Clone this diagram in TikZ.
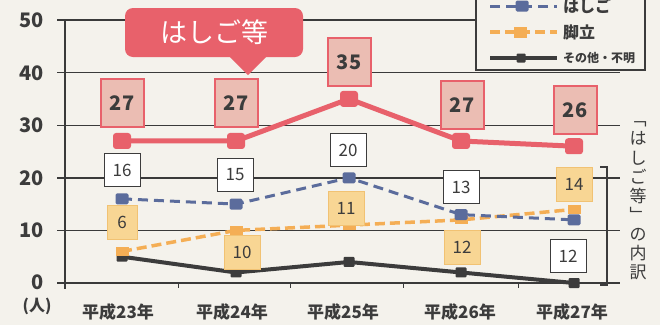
\documentclass[tikz,border=0pt]{standalone}
\usepackage{fontspec}
\setmainfont{Noto Sans CJK JP}
\definecolor{paper}{HTML}{F4F2EC}
\definecolor{redc}{HTML}{E8616B}
\definecolor{redfill}{HTML}{EBBDB3}
\definecolor{bluec}{HTML}{5B6C9C}
\definecolor{orangec}{HTML}{F4AE55}
\definecolor{orangefill}{HTML}{F8D694}
\definecolor{orangeedge}{HTML}{F1C273}
\definecolor{blackc}{HTML}{3C3C3C}
\definecolor{gridc}{HTML}{3A3A3A}
\begin{document}
\begin{tikzpicture}[x=1pt,y=-1pt,
  gridline/.style={draw=gridc,line width=1.4pt},
  ylab/.style={anchor=east,font=\fontsize{20}{20}\selectfont\bfseries,text=blackc,inner sep=0pt},
  xlab/.style={font=\fontsize{17}{17}\selectfont\bfseries,text=blackc,inner sep=0pt},
  redline/.style={draw=redc,line width=5pt,line join=round},
  blueline/.style={draw=bluec,line width=3pt,dash pattern=on 10pt off 6pt},
  orangeline/.style={draw=orangec,line width=3.5pt,dash pattern=on 10pt off 5pt},
  blackline/.style={draw=blackc,line width=4pt,line join=round},
  redmark/.style={fill=redc,minimum width=18pt,minimum height=16pt,inner sep=0pt,rounded corners=3pt},
  bluemark/.style={fill=bluec,minimum width=13pt,minimum height=11pt,inner sep=0pt,rounded corners=1.5pt},
  orangemark/.style={fill=orangec,minimum width=13pt,minimum height=9pt,inner sep=0pt},
  blackmark/.style={fill=blackc,minimum width=11pt,minimum height=10pt,inner sep=0pt,rounded corners=1pt},
  redbox/.style={fill=redfill,draw=redc,line width=2pt,minimum width=43pt,minimum height=48pt,inner sep=0pt,
    font=\fontsize{20}{20}\selectfont\bfseries,text=blackc},
  bluebox/.style={fill=white,draw=blackc,line width=1pt,minimum width=36pt,minimum height=33pt,inner sep=0pt,
    font=\fontsize{17}{17}\selectfont,text=blackc},
  orangebox/.style={fill=orangefill,draw=orangeedge,line width=1pt,minimum width=36pt,minimum height=34pt,inner sep=0pt,
    font=\fontsize{17}{17}\selectfont,text=blackc},
  legtext/.style={anchor=west,font=\fontsize{16}{16}\selectfont\bfseries,text=blackc,inner sep=0pt},
]
\useasboundingbox (0,0) rectangle (660,325);
\fill[paper] (0,0) rectangle (660,325);

% grid
\foreach \v in {0,10,20,30,40,50}
  \draw[gridline] (57,{283-5.26*\v}) -- (620,{283-5.26*\v});
\draw[gridline] (65,19) -- (65,289);
\foreach \x in {178,290,403,518}
  \draw[gridline,line width=1pt] (\x,283) -- (\x,288);

% y labels
\node[ylab] (y50) at (44,20) {50};
\node[ylab] (y40) at (44,73) {40};
\node[ylab] (y30) at (44,125) {30};
\node[ylab] (y20) at (44,178) {20};
\node[ylab] (y10) at (44,230) {10};
\node[ylab] (y0)  at (44,282) {0};
\node[font=\fontsize{16}{16}\selectfont\bfseries,text=blackc,inner sep=0pt] (unit) at (37,306) {(人)};

% x labels
\node[xlab] (x1) at (118,312) {平成23年};
\node[xlab] (x2) at (232,312) {平成24年};
\node[xlab] (x3) at (343,312) {平成25年};
\node[xlab] (x4) at (460,312) {平成26年};
\node[xlab] (x5) at (572,312) {平成27年};

% data coordinates
\coordinate (r1) at (122,{283-5.26*27});
\coordinate (r2) at (236,{283-5.26*27});
\coordinate (r3) at (349,{283-5.26*35});
\coordinate (r4) at (461,{283-5.26*27});
\coordinate (r5) at (574,{283-5.26*26});
\coordinate (b1) at (122,{283-5.26*16});
\coordinate (b2) at (236,{283-5.26*15});
\coordinate (b3) at (349,{283-5.26*20});
\coordinate (b4) at (461,{283-5.26*13});
\coordinate (b5) at (574,{283-5.26*12});
\coordinate (o1) at (122,{283-5.26*6});
\coordinate (o2) at (236,{283-5.26*10});
\coordinate (o3) at (349,{283-5.26*11});
\coordinate (o4) at (461,{283-5.26*12});
\coordinate (o5) at (574,{283-5.26*14});
\coordinate (k1) at (122,{283-5.26*5});
\coordinate (k2) at (236,{283-5.26*2});
\coordinate (k3) at (349,{283-5.26*4});
\coordinate (k4) at (461,{283-5.26*2});
\coordinate (k5) at (574,{283-5.26*0});

% lines
\draw[blackline] (k1) -- (k2) -- (k3) -- (k4) -- (k5);
\draw[orangeline] (o1) -- (o2) -- (o3) -- (o4) -- (o5);
\draw[blueline] (b1) -- (b2) -- (b3) -- (b4) -- (b5);
\draw[redline] (r1) -- (r2) -- (r3) -- (r4) -- (r5);

% markers
\foreach \i in {1,...,5} {
  \node[blackmark] (km\i) at (k\i) {};
  \node[orangemark] (om\i) at (o\i) {};
  \node[bluemark] (bm\i) at (b\i) {};
  \node[redmark] (rm\i) at (r\i) {};
}

% red value boxes
\node[redbox] (rb1) at (122,103) {27};
\node[redbox] (rb2) at (236,103) {27};
\node[redbox] (rb3) at (349,62) {35};
\node[redbox] (rb4) at (462,105) {27};
\node[redbox] (rb5) at (575,110) {26};

% blue value boxes
\node[bluebox] (bb1) at (122,170) {16};
\node[bluebox] (bb2) at (235,175) {15};
\node[bluebox] (bb3) at (348,150) {20};
\node[bluebox] (bb4) at (461,187) {13};
\node[bluebox] (bb5) at (568,256) {12};

% orange value boxes
\node[orangebox,minimum width=30pt] (ob1) at (122,222) {6};
\node[orangebox] (ob2) at (242,252) {10};
\node[orangebox] (ob3) at (346,208) {11};
\node[orangebox] (ob4) at (462,247) {12};
\node[orangebox] (ob5) at (574,184) {14};

% callout
\node[fill=redc,rounded corners=8pt,minimum width=178pt,minimum height=49pt,inner sep=0pt,
  text=white,font=\fontsize{27}{27}\selectfont] (call) at (214,32.5) {はしご等};
\fill[redc] (229,56) -- (267,56) -- (248,75) -- cycle;

% legend
\draw[draw=blackc,line width=1.3pt,fill=paper] (476,-20) rectangle (645,70);
\coordinate (la1) at (490,6);  \coordinate (la2) at (557,6);
\coordinate (lb1) at (490,32); \coordinate (lb2) at (557,32);
\coordinate (lc1) at (490,58); \coordinate (lc2) at (557,58);
\draw[blueline] (la1) -- (la2);
\node[bluemark] (lam) at (522,6) {};
\draw[orangeline] (lb1) -- (lb2);
\node[orangemark,minimum height=11pt] (lbm) at (520,32) {};
\draw[blackline] (lc1) -- (lc2);
\node[blackmark,minimum width=9pt,minimum height=9pt] (lcm) at (521,58) {};
\node[legtext] (lt1) at (563,6) {はしご};
\node[legtext] (lt2) at (563,32) {脚立};
\node[legtext,font=\fontsize{12}{12}\selectfont\bfseries] (lt3) at (563,58) {その他・不明};

% right bracket and vertical caption
\draw[draw=blackc,line width=1.3pt] (600,167) -- (607,167) -- (607,285) -- (600,285);
\node[align=center,font=\fontsize{17}{19.1}\selectfont,text=blackc,inner sep=0pt] (vcap) at (638,201)
  {﹁\\は\\し\\ご\\等\\﹂\\の\\内\\訳};
\end{tikzpicture}
\end{document}
